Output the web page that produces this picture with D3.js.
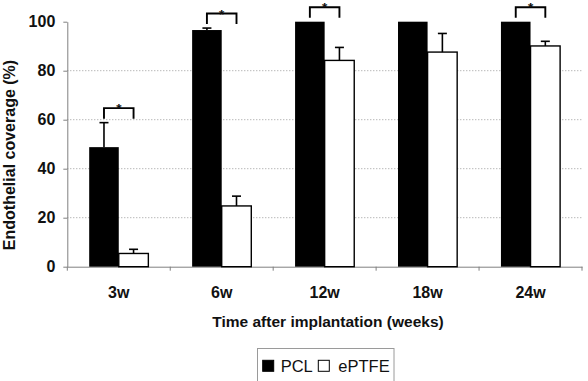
<!DOCTYPE html>
<html>
<head>
<meta charset="utf-8">
<script src="https://cdn.jsdelivr.net/npm/d3@7"></script>
<style>
  html, body { margin: 0; padding: 0; background: #fff; }
  svg { display: block; font-family: "Liberation Sans", Arial, sans-serif; }
</style>
</head>
<body>
<svg id="chart" width="588" height="381"></svg>
<script>
// ---- data ----
const categories = ["3w", "6w", "12w", "18w", "24w"];
const seriesNames = ["PCL", "ePTFE"];
const pclValues = [48.8, 96.6, 100, 100, 100];
const pclErrors = [10.0, 0.8, 0, 0, 0];
const eptfeValues = [5.4, 24.8, 84.2, 87.6, 90.1];
const eptfeErrors = [1.7, 4.0, 5.3, 7.6, 1.9];
const significant = ["3w", "6w", "12w", "24w"];
const yTicks = [0, 20, 40, 60, 80, 100];
const yTitle = "Endothelial coverage (%)";
const xTitle = "Time after implantation (weeks)";

// ---- layout ----
const svg = d3.select("#chart");
const mLeft = 67.3, mRight = 582, mTop = 21.7, mBottom = 266.7;

const x = d3.scaleBand().domain(categories).range([mLeft, mRight]).paddingInner(0).paddingOuter(0);
const xs = d3.scaleBand().domain(seriesNames).range([0, x.bandwidth()]).paddingInner(0).paddingOuter(0.74);
const y = d3.scaleLinear().domain([0, 100]).range([mBottom, mTop]);

// gridlines
svg.append("g")
  .selectAll("line")
  .data(yTicks.filter(t => t > 0 && t < 100))
  .join("line")
  .attr("x1", mLeft).attr("x2", mRight)
  .attr("y1", d => y(d)).attr("y2", d => y(d))
  .attr("stroke", "#9a9a9a").attr("stroke-width", 1)
  .attr("stroke-dasharray", "1,2");

// y axis
const yAxis = svg.append("g")
  .attr("transform", `translate(${mLeft},0)`)
  .call(d3.axisLeft(y).tickValues(yTicks).tickSize(4).tickSizeOuter(0).tickPadding(8));
yAxis.select(".domain").attr("stroke", "#808080");
yAxis.selectAll(".tick line").attr("stroke", "#808080");
yAxis.selectAll(".tick text")
  .attr("font-size", 16).attr("font-weight", "bold").attr("fill", "#111")
  .attr("font-family", "Liberation Sans, Arial, sans-serif");

// x axis
const xAxis = svg.append("g")
  .attr("transform", `translate(0,${mBottom})`)
  .call(d3.axisBottom(x).tickSize(0).tickPadding(20));
xAxis.select(".domain").attr("stroke", "#808080");
xAxis.selectAll(".tick text")
  .attr("font-size", 16).attr("font-weight", "bold").attr("fill", "#111")
  .attr("font-family", "Liberation Sans, Arial, sans-serif");
// category boundary ticks
const boundaries = categories.map(c => x(c)).concat([x(categories[categories.length - 1]) + x.bandwidth()]);
svg.append("g").selectAll("line")
  .data(boundaries)
  .join("line")
  .attr("x1", d => d).attr("x2", d => d)
  .attr("y1", mBottom).attr("y2", mBottom + 4)
  .attr("stroke", "#808080");

// bars
const rows = categories.map((c, i) => ({
  cat: c,
  items: [
    { s: "PCL", v: pclValues[i], e: pclErrors[i] },
    { s: "ePTFE", v: eptfeValues[i], e: eptfeErrors[i] }
  ]
}));

const groups = svg.append("g").selectAll("g")
  .data(rows)
  .join("g")
  .attr("transform", d => `translate(${x(d.cat)},0)`);

groups.selectAll("rect")
  .data(d => d.items)
  .join("rect")
  .attr("x", d => xs(d.s))
  .attr("width", xs.bandwidth())
  .attr("y", d => y(d.v))
  .attr("height", d => y(0) - y(d.v))
  .attr("fill", d => d.s === "PCL" ? "#000" : "#fff")
  .attr("stroke", "#000")
  .attr("stroke-width", d => d.s === "PCL" ? 0 : 1.4);

// error bars
const errs = groups.selectAll("g.err")
  .data(d => d.items.filter(it => it.e > 0))
  .join("g").attr("class", "err");
errs.append("line")
  .attr("x1", d => xs(d.s) + xs.bandwidth() / 2)
  .attr("x2", d => xs(d.s) + xs.bandwidth() / 2)
  .attr("y1", d => y(d.v)).attr("y2", d => y(d.v + d.e))
  .attr("stroke", "#000").attr("stroke-width", 1.6);
errs.append("line")
  .attr("x1", d => xs(d.s) + xs.bandwidth() / 2 - 4.5)
  .attr("x2", d => xs(d.s) + xs.bandwidth() / 2 + 4.5)
  .attr("y1", d => y(d.v + d.e)).attr("y2", d => y(d.v + d.e))
  .attr("stroke", "#000").attr("stroke-width", 1.6);

// significance brackets
const sigRows = rows.filter(r => significant.includes(r.cat));
const br = svg.append("g").selectAll("g")
  .data(sigRows)
  .join("g")
  .attr("transform", d => `translate(${x(d.cat)},0)`);
br.each(function (d) {
  const g = d3.select(this);
  const topVal = d3.max(d.items, it => it.v + it.e);
  const yb = y(topVal) - 4;
  const yt = yb - 10.5;
  const x1 = xs("PCL") + xs.bandwidth() / 2;
  const x2 = xs("ePTFE") + xs.bandwidth() / 2;
  g.append("path")
    .attr("d", `M${x1},${yb}V${yt}H${x2}V${yb}`)
    .attr("fill", "none").attr("stroke", "#000").attr("stroke-width", 1.9);
  g.append("text")
    .attr("x", (x1 + x2) / 2).attr("y", yt + 5)
    .attr("text-anchor", "middle")
    .attr("font-size", 13.5).attr("font-weight", "bold").attr("fill", "#111")
    .text("*");
});

// axis titles
svg.append("text")
  .attr("transform", `translate(15,155) rotate(-90)`)
  .attr("text-anchor", "middle")
  .attr("font-size", 16).attr("font-weight", "bold").attr("fill", "#111")
  .text(yTitle);

svg.append("text")
  .attr("x", 328).attr("y", 327)
  .attr("text-anchor", "middle")
  .attr("font-size", 15.5).attr("font-weight", "bold").attr("fill", "#111")
  .text(xTitle);

// legend
const lg = svg.append("g");
lg.append("rect")
  .attr("x", 257.5).attr("y", 348.5).attr("width", 136.5).attr("height", 40)
  .attr("fill", "#fff").attr("stroke", "#9a9a9a").attr("stroke-width", 1);
const legendItems = [
  { name: seriesNames[0], fill: "#000", sx: 262.7, tx: 280.7 },
  { name: seriesNames[1], fill: "#fff", sx: 318.3, tx: 338.3 }
];
lg.selectAll("rect.sw")
  .data(legendItems)
  .join("rect").attr("class", "sw")
  .attr("x", d => d.sx).attr("y", 360.3)
  .attr("width", 11).attr("height", 11)
  .attr("fill", d => d.fill).attr("stroke", "#000").attr("stroke-width", 1);
lg.selectAll("text")
  .data(legendItems)
  .join("text")
  .attr("x", d => d.tx).attr("y", 371.7)
  .attr("font-size", 16.5).attr("fill", "#111")
  .text(d => d.name);
</script>
</body>
</html>
